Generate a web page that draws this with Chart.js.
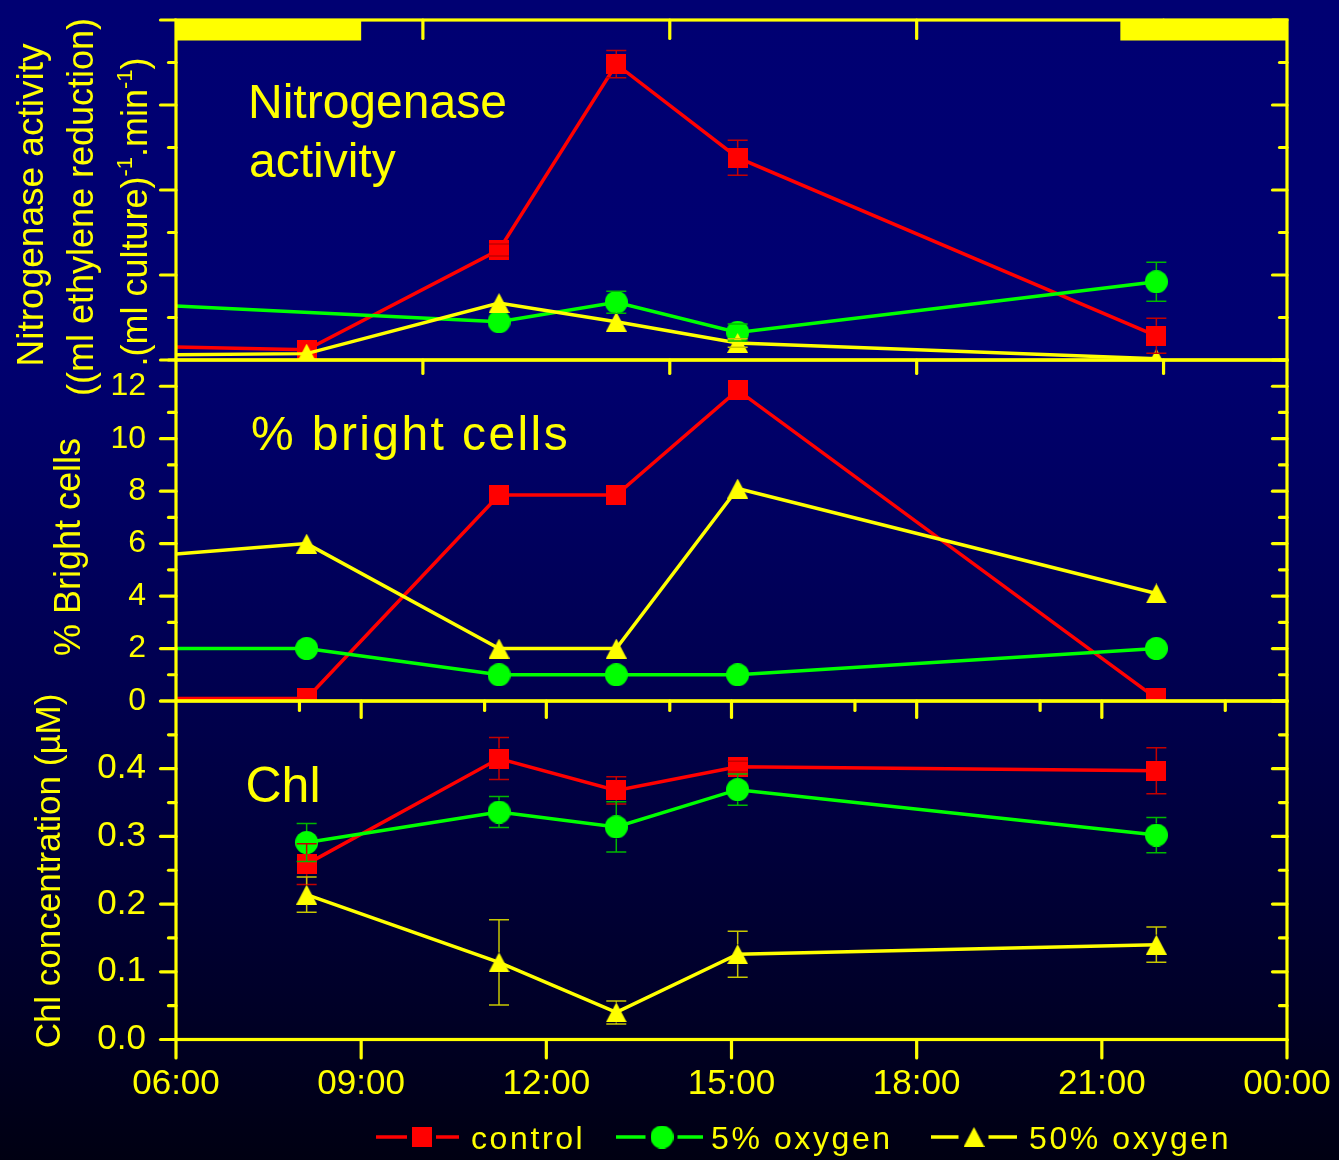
<!DOCTYPE html>
<html>
<head>
<meta charset="utf-8">
<title>Nitrogenase activity, bright cells and Chl over the day</title>
<script src="https://cdn.jsdelivr.net/npm/chart.js@4/dist/chart.umd.min.js"></script>
<style>
  html, body { margin: 0; padding: 0; }
  body {
    width: 1339px; height: 1160px; overflow: hidden; position: relative;
    background: linear-gradient(180deg, #000072 0%, #000070 30%, #00004e 60%, #00002a 85%, #000012 100%);
  }
  canvas { position: absolute; left: 0; top: 0; }
</style>
</head>
<body>
<canvas id="nitro" width="1339" height="1160"></canvas>
<canvas id="bright" width="1339" height="1160"></canvas>
<canvas id="chl" width="1339" height="1160"></canvas>
<script>
// ---------- data ----------
const seriesNames = ['control', '5% oxygen', '50% oxygen'];

// sampling times of the day
const sampleTimes = ['08:07', '11:14', '13:08', '15:06', '21:53'];
// last sample of the evening before; the two upper panels start from it
const eveningBefore = '21:53';

// Nitrogenase activity: [eveningBefore, ...sampleTimes]
const nitroControl      = [0.57, 0.24, 2.59, 6.96, 4.76, 0.57];
const nitroControlErr   = [0.41, null, 0.14, 0.32, 0.41, 0.41];
const nitroLowO2        = [1.84, null, 0.90, 1.36, 0.65, 1.84];
const nitroLowO2Err     = [0.46, null, null, 0.26, 0.20, 0.46];
const nitroHighO2       = [0.03, 0.15, 1.34, 0.90, 0.40, 0.03];
const nitroHighO2Err    = [null, null, null, null, 0.10, null];

// % bright cells: [eveningBefore, ...sampleTimes]
const brightControl     = [0.1, 0.1, 7.85, 7.85, 11.85, 0.1];
const brightLowO2       = [2.0, 2.0, 1.0, 1.0, 1.0, 2.0];
const brightHighO2      = [4.1, 6.0, 2.0, 2.0, 8.1, 4.1];

// Chl concentration (uM): sampleTimes
const chlControl        = [0.259, 0.415, 0.368, 0.403, 0.397];
const chlControlErr     = [0.030, 0.031, 0.020, 0.008, 0.034];
const chlLowO2          = [0.291, 0.336, 0.314, 0.369, 0.302];
const chlLowO2Err       = [0.028, 0.023, 0.037, 0.023, 0.026];
const chlHighO2         = [0.214, 0.114, 0.040, 0.126, 0.140];
const chlHighO2Err      = [0.026, 0.063, 0.017, 0.034, 0.026];

// ticks
const timeTicks      = ['06:00', '09:00', '12:00', '15:00', '18:00', '21:00', '00:00'];
const timeMinorTicks = ['08:00', '11:00', '14:00', '17:00', '20:00', '23:00'];
const nitroTimeTicks = ['10:00', '14:00', '18:00', '22:00'];
const nitroTicks     = [0, 2, 4, 6, 8];
const nitroMinor     = [1, 3, 5, 7];
const brightTicks    = ['0', '2', '4', '6', '8', '10', '12'];
const brightMinor    = [1, 3, 5, 7, 9, 11, 13];
const brightMax      = 13;
const chlTicks       = ['0.0', '0.1', '0.2', '0.3', '0.4'];
const chlMinor       = [0.05, 0.15, 0.25, 0.35, 0.45];
const chlMax         = 0.5;

// dark periods shown as bars along the top edge
const darkPeriods = [['06:00', '09:00'], ['21:18', '00:00']];

// ---------- helpers ----------
const AXIS = '#ffff00';
const FONT = "'Liberation Sans', Arial, Helvetica, sans-serif";

const toHours = s => { const [h, m] = s.split(':').map(Number); return h + m / 60; };
const toAxisHour = s => { const h = toHours(s); return h < 6 ? h + 24 : h; };

const dayTimes = sampleTimes.map(toHours);
const wrapTimes = [toHours(eveningBefore) - 24, ...dayTimes];

function markerCanvas(shape, color, w, h) {
  const c = document.createElement('canvas');
  c.width = w; c.height = h;
  const g = c.getContext('2d');
  g.fillStyle = color;
  g.beginPath();
  if (shape === 'square') g.rect(0, 0, w, h);
  else if (shape === 'circle') g.ellipse(w / 2, h / 2, w / 2, h / 2, 0, 0, Math.PI * 2);
  else { g.moveTo(w / 2, 0); g.lineTo(w, h); g.lineTo(0, h); g.closePath(); }
  g.fill();
  return c;
}

const STYLES = [
  { color: '#ff0000', err: '#c40000', marker: markerCanvas('square', '#ff0000', 20, 20), order: 2, half: 10 },
  { color: '#00ff00', err: '#00b800', marker: markerCanvas('circle', '#00ff00', 23, 23), order: 1, half: 11.5 },
  { color: '#ffff00', err: '#c8c800', marker: markerCanvas('triangle', '#ffff00', 21, 20), order: 0, half: 10 }
];

function series(idx, times, values, errors) {
  const s = STYLES[idx];
  return {
    label: seriesNames[idx],
    data: times.map((t, i) => ({ x: t, y: values[i] })),
    errors: errors || null,
    errorColor: s.err,
    markerHalf: s.half,
    borderColor: s.color,
    backgroundColor: s.color,
    borderWidth: 3.5,
    pointStyle: s.marker,
    pointRadius: 11,
    pointHoverRadius: 11,
    spanGaps: true,
    tension: 0,
    clip: 0,
    order: s.order
  };
}

// vertical error bars with caps, the stem leaves the marker outline free
const errorBars = {
  id: 'errorBars',
  afterDatasetsDraw(chart) {
    const { ctx, chartArea: a, scales: { x, y } } = chart;
    ctx.save();
    ctx.beginPath();
    ctx.rect(a.left, a.top, a.right - a.left, a.bottom - a.top);
    ctx.clip();
    ctx.lineWidth = 1.5;
    chart.data.datasets.forEach(ds => {
      if (!ds.errors) return;
      ctx.strokeStyle = ds.errorColor;
      ds.data.forEach((p, i) => {
        const e = ds.errors[i];
        if (p.y == null || e == null) return;
        const px = x.getPixelForValue(p.x);
        const py = y.getPixelForValue(p.y);
        const lo = y.getPixelForValue(p.y - e);
        const hi = y.getPixelForValue(p.y + e);
        const h = ds.markerHalf;
        ctx.beginPath();
        if (lo > py + h) { ctx.moveTo(px, py + h); ctx.lineTo(px, lo); }
        if (hi < py - h) { ctx.moveTo(px, py - h); ctx.lineTo(px, hi); }
        ctx.moveTo(px - 10, lo); ctx.lineTo(px + 10, lo);
        ctx.moveTo(px - 10, hi); ctx.lineTo(px + 10, hi);
        ctx.stroke();
      });
    });
    ctx.restore();
  }
};

// plot frame with major/minor tick marks (left & bottom outward, right & top inward)
function framePlugin(frame) {
  return {
    id: 'frame',
    afterDraw(chart) {
      const { ctx, chartArea: a, scales: { x, y } } = chart;
      ctx.save();
      ctx.strokeStyle = AXIS;
      ctx.fillStyle = AXIS;
      (frame.bars || []).forEach(([from, to]) => {
        const x0 = x.getPixelForValue(toAxisHour(from));
        const x1 = x.getPixelForValue(toAxisHour(to));
        ctx.fillRect(x0, a.top, x1 - x0, 20.5);
      });
      ctx.lineWidth = 3.2;
      ctx.strokeRect(a.left, a.top, a.right - a.left, a.bottom - a.top);
      ctx.lineCap = 'round';
      const seg = (x0, y0, x1, y1) => { ctx.beginPath(); ctx.moveTo(x0, y0); ctx.lineTo(x1, y1); ctx.stroke(); };
      (frame.left || []).forEach(g => g.at.forEach(v => { const p = y.getPixelForValue(v); seg(a.left, p, a.left - g.len, p); }));
      (frame.right || []).forEach(g => g.at.forEach(v => { const p = y.getPixelForValue(v); seg(a.right, p, a.right - g.len, p); }));
      (frame.top || []).forEach(g => g.at.forEach(v => { const p = x.getPixelForValue(v); seg(p, a.top, p, a.top + g.len); }));
      (frame.bottom || []).forEach(g => g.at.forEach(v => { const p = x.getPixelForValue(v); seg(p, a.bottom, p, a.bottom + g.len); }));
      ctx.restore();
    }
  };
}

// panel captions and rotated axis titles
function textPlugin(notes, titles) {
  return {
    id: 'texts',
    afterDraw(chart) {
      const ctx = chart.ctx;
      ctx.save();
      ctx.fillStyle = AXIS;
      ctx.textBaseline = 'alphabetic';
      ctx.textAlign = 'left';
      notes.forEach(n => {
        ctx.font = `${n.size}px ${FONT}`;
        ctx.letterSpacing = (n.spacing || 0) + 'px';
        ctx.fillText(n.text, n.x, n.y);
      });
      ctx.letterSpacing = '0px';
      titles.forEach(t => {
        ctx.save();
        ctx.translate(t.baseX, t.centerY);
        ctx.rotate(-Math.PI / 2);
        const fonts = t.parts.map(p => `${p.sup ? Math.round(t.size * 0.62) : t.size}px ${FONT}`);
        const widths = t.parts.map((p, i) => { ctx.font = fonts[i]; return ctx.measureText(p.text).width; });
        let cx = -widths.reduce((s, w) => s + w, 0) / 2;
        t.parts.forEach((p, i) => {
          ctx.font = fonts[i];
          ctx.fillText(p.text, cx, p.sup ? -t.size * 0.42 : 0);
          cx += widths[i];
        });
        ctx.restore();
      });
      ctx.restore();
    }
  };
}

// line-marker-line legend along the bottom
const legendSlots = [
  { from: 376, to: 459, marker: 422, text: 471 },
  { from: 616, to: 703, marker: 662, text: 711 },
  { from: 931, to: 1017, marker: 974, text: 1029 }
];
const legendPlugin = {
  id: 'lineLegend',
  afterDraw(chart) {
    const ctx = chart.ctx;
    const yc = 1137;
    ctx.save();
    chart.data.datasets.forEach((ds, i) => {
      const slot = legendSlots[i];
      const img = ds.pointStyle;
      ctx.strokeStyle = ds.borderColor;
      ctx.lineWidth = 3.5;
      ctx.beginPath();
      ctx.moveTo(slot.from, yc); ctx.lineTo(slot.marker - img.width / 2 - 5, yc);
      ctx.moveTo(slot.marker + img.width / 2 + 4, yc); ctx.lineTo(slot.to, yc);
      ctx.stroke();
      ctx.drawImage(img, slot.marker - img.width / 2, yc - img.height / 2);
      ctx.fillStyle = AXIS;
      ctx.font = `32px ${FONT}`;
      ctx.letterSpacing = '2.6px';
      ctx.textBaseline = 'alphabetic';
      ctx.fillText(ds.label, slot.text, 1149);
    });
    ctx.restore();
  }
};

const hiddenX = { type: 'linear', min: 6, max: 24, bounds: 'data', display: false };

function fixedY(width) {
  return s => { s.width = width; s.paddingTop = 0; s.paddingBottom = 0; };
}

function makeChart(id, cfg) {
  return new Chart(document.getElementById(id), {
    type: 'line',
    data: { datasets: cfg.datasets },
    options: {
      responsive: false,
      animation: false,
      events: [],
      devicePixelRatio: 1,
      layout: { padding: cfg.padding },
      plugins: { legend: { display: false }, tooltip: { enabled: false } },
      scales: { x: cfg.x, y: cfg.y }
    },
    plugins: [errorBars, framePlugin(cfg.frame), textPlugin(cfg.notes, cfg.titles)].concat(cfg.extra || [])
  });
}

// ---------- top panel: nitrogenase activity ----------
makeChart('nitro', {
  datasets: [
    series(0, wrapTimes, nitroControl, nitroControlErr),
    series(1, wrapTimes, nitroLowO2, nitroLowO2Err),
    series(2, wrapTimes, nitroHighO2, nitroHighO2Err)
  ],
  padding: { left: 176, right: 52, top: 20, bottom: 800 },
  x: hiddenX,
  y: { type: 'linear', min: 0, max: 8, bounds: 'data', display: false },
  frame: {
    bars: darkPeriods,
    left: [{ at: nitroTicks, len: 15.5 }, { at: nitroMinor, len: 7.5 }],
    right: [{ at: nitroTicks, len: 14.5 }, { at: nitroMinor, len: 7.5 }],
    top: [{ at: nitroTimeTicks.map(toAxisHour), len: 18.5 }],
    bottom: [{ at: nitroTimeTicks.map(toAxisHour), len: 13.5 }]
  },
  notes: [
    { text: 'Nitrogenase', x: 248, y: 118, size: 48 },
    { text: 'activity', x: 249, y: 177, size: 48 }
  ],
  titles: [
    { parts: [{ text: 'Nitrogenase activity' }], baseX: 43, centerY: 205, size: 37 },
    { parts: [{ text: '((ml ethylene reduction)' }], baseX: 93, centerY: 207, size: 36 },
    { parts: [{ text: '.(ml culture)' }, { text: '-1', sup: true }, { text: '.min' }, { text: '-1', sup: true }, { text: ')' }],
      baseX: 147, centerY: 212, size: 36 }
  ]
});

// ---------- middle panel: % bright cells ----------
makeChart('bright', {
  datasets: [
    series(0, wrapTimes, brightControl),
    series(1, wrapTimes, brightLowO2),
    series(2, wrapTimes, brightHighO2)
  ],
  padding: { left: 0, right: 52, top: 360, bottom: 459 },
  x: hiddenX,
  y: {
    type: 'linear', min: 0, max: brightMax, bounds: 'data',
    afterBuildTicks: s => { s.ticks = brightTicks.map(t => ({ value: Number(t) })); },
    afterFit: fixedY(176),
    grid: { display: false, drawTicks: false },
    border: { display: false },
    ticks: {
      callback: (v, i) => brightTicks[i],
      color: AXIS, font: { family: FONT, size: 32 }, padding: 30, autoSkip: false
    }
  },
  frame: {
    left: [{ at: brightTicks.map(Number), len: 15.5 }, { at: brightMinor, len: 7.5 }],
    right: [{ at: brightTicks.map(Number), len: 14.5 }, { at: brightMinor, len: 7.5 }],
    bottom: [{ at: timeTicks.slice(1, -1).map(toAxisHour), len: 16.5 }, { at: timeMinorTicks.map(toAxisHour), len: 9.5 }]
  },
  notes: [{ text: '% bright cells', x: 251, y: 450, size: 48, spacing: 2.4 }],
  titles: [{ parts: [{ text: '% Bright cells' }], baseX: 80, centerY: 547, size: 36 }]
});

// ---------- bottom panel: Chl concentration ----------
makeChart('chl', {
  datasets: [
    series(0, dayTimes, chlControl, chlControlErr),
    series(1, dayTimes, chlLowO2, chlLowO2Err),
    series(2, dayTimes, chlHighO2, chlHighO2Err)
  ],
  padding: { left: 0, right: 52, top: 701, bottom: 60.5 },
  x: {
    type: 'linear', min: 6, max: 24, bounds: 'data',
    afterBuildTicks: s => { s.ticks = timeTicks.map(t => ({ value: toAxisHour(t) })); },
    afterFit: s => { s.height = 60; s.paddingLeft = 0; s.paddingRight = 0; },
    grid: { display: false, drawTicks: false },
    border: { display: false },
    ticks: {
      callback: (v, i) => timeTicks[i],
      color: AXIS, font: { family: FONT, size: 35 }, padding: 23.5,
      autoSkip: false, maxRotation: 0, minRotation: 0
    }
  },
  y: {
    type: 'linear', min: 0, max: chlMax, bounds: 'data',
    afterBuildTicks: s => { s.ticks = chlTicks.map(t => ({ value: Number(t) })); },
    afterFit: fixedY(176),
    grid: { display: false, drawTicks: false },
    border: { display: false },
    ticks: {
      callback: (v, i) => chlTicks[i],
      color: AXIS, font: { family: FONT, size: 35 }, padding: 30, autoSkip: false
    }
  },
  frame: {
    left: [{ at: [...chlTicks.map(Number), chlMax], len: 15.5 }, { at: chlMinor, len: 7.5 }],
    right: [{ at: [...chlTicks.map(Number), chlMax], len: 14.5 }, { at: chlMinor, len: 7.5 }],
    bottom: [{ at: timeTicks.map(toAxisHour), len: 18.5 }]
  },
  notes: [{ text: 'Chl', x: 245.5, y: 801.7, size: 50 }],
  titles: [{ parts: [{ text: 'Chl concentration (\u00b5M)' }], baseX: 60, centerY: 871, size: 35 }],
  extra: [legendPlugin]
});
</script>
</body>
</html>
